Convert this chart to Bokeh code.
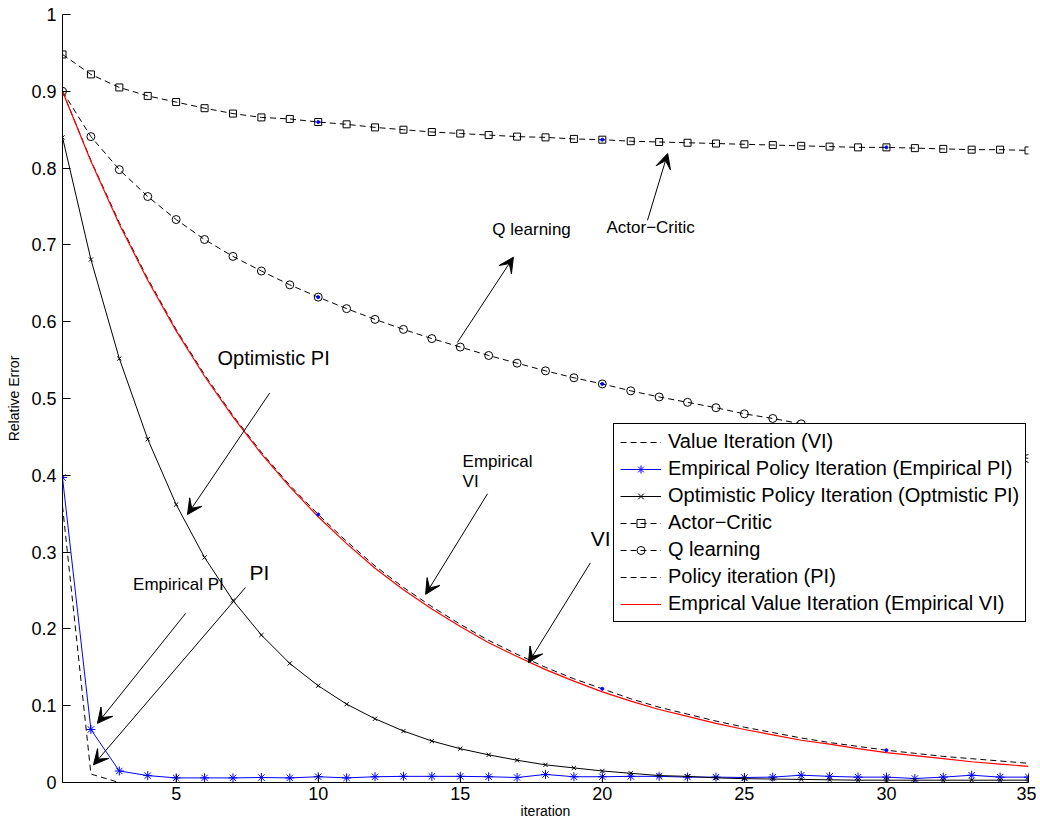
from bokeh.plotting import figure
from bokeh.models import (Range1d, FixedTicker, CustomJSTickFormatter, Legend,
                          LegendItem, Label, Arrow, VeeHead)
from bokeh.embed import file_html
from bokeh.resources import INLINE

iterations = list(range(1, 36))

value_iteration = [0.900, 0.810, 0.729, 0.656, 0.590, 0.531, 0.478, 0.430, 0.387, 0.349,
                   0.314, 0.282, 0.254, 0.229, 0.206, 0.185, 0.167, 0.150, 0.135, 0.122,
                   0.109, 0.098, 0.089, 0.080, 0.072, 0.065, 0.058, 0.052, 0.047, 0.042,
                   0.038, 0.034, 0.031, 0.028, 0.025]

empirical_pi = [0.397, 0.069, 0.015, 0.009, 0.006, 0.006, 0.006, 0.0065, 0.006, 0.0075,
                0.006, 0.0075, 0.008, 0.008, 0.008, 0.0075, 0.0065, 0.0105, 0.0075, 0.0075,
                0.008, 0.008, 0.007, 0.007, 0.0065, 0.007, 0.0095, 0.008, 0.007, 0.007,
                0.0052, 0.007, 0.0095, 0.007, 0.007]

optimistic_pi = [0.840, 0.681, 0.552, 0.447, 0.362, 0.293, 0.237, 0.192, 0.155, 0.126,
                 0.102, 0.083, 0.067, 0.054, 0.044, 0.036, 0.029, 0.023, 0.019, 0.015,
                 0.012, 0.009, 0.008, 0.006, 0.005, 0.0045, 0.004, 0.0035, 0.003, 0.003,
                 0.003, 0.003, 0.003, 0.003, 0.003]

actor_critic = [0.948, 0.922, 0.905, 0.894, 0.886, 0.878, 0.871, 0.866, 0.864, 0.860,
                0.857, 0.853, 0.850, 0.847, 0.845, 0.843, 0.841, 0.840, 0.838, 0.837,
                0.835, 0.834, 0.833, 0.832, 0.831, 0.830, 0.829, 0.828, 0.827, 0.827,
                0.826, 0.825, 0.824, 0.824, 0.823]

q_learning = [0.900, 0.841, 0.798, 0.763, 0.733, 0.707, 0.685, 0.666, 0.648, 0.632,
              0.617, 0.603, 0.590, 0.578, 0.567, 0.556, 0.546, 0.536, 0.527, 0.519,
              0.510, 0.502, 0.495, 0.488, 0.480, 0.474, 0.467, 0.461, 0.455, 0.449,
              0.444, 0.438, 0.433, 0.428, 0.422]

policy_iteration = [0.360, 0.011, 0.0, 0.0, 0.0, 0.0, 0.0, 0.0, 0.0, 0.0,
                    0.0, 0.0, 0.0, 0.0, 0.0, 0.0, 0.0, 0.0, 0.0, 0.0,
                    0.0, 0.0, 0.0, 0.0, 0.0, 0.0, 0.0, 0.0, 0.0, 0.0,
                    0.0, 0.0, 0.0, 0.0, 0.0]

empirical_vi = [0.900, 0.809, 0.727, 0.654, 0.588, 0.529, 0.476, 0.428, 0.385, 0.346,
                0.311, 0.279, 0.251, 0.226, 0.203, 0.182, 0.164, 0.147, 0.132, 0.118,
                0.106, 0.095, 0.086, 0.077, 0.069, 0.062, 0.055, 0.050, 0.044, 0.039,
                0.035, 0.031, 0.027, 0.024, 0.021]

x_ticks = [5, 10, 15, 20, 25, 30, 35]
y_ticks = [0, 0.1, 0.2, 0.3, 0.4, 0.5, 0.6, 0.7, 0.8, 0.9, 1.0]

legend_labels = ["Value Iteration (VI)",
                 "Empirical Policy Iteration (Empirical PI)",
                 "Optimistic Policy Iteration (Optmistic PI)",
                 "Actor\u2212Critic",
                 "Q learning",
                 "Policy iteration (PI)",
                 "Emprical Value Iteration (Empirical VI)"]

# annotations: (text, text_x, text_y, font size, arrow start x, y, arrow end x, y)
annotations = [
    ("Q learning", 17.51, 0.720, "17px", 14.90, 0.573, 16.87, 0.684),
    ("Actor\u2212Critic", 21.70, 0.723, "17px", 21.59, 0.732, 22.30, 0.819),
    ("Optimistic PI", 8.43, 0.553, "20px", 8.29, 0.507, 5.40, 0.349),
    ("VI", 19.94, 0.318, "21px", 19.58, 0.286, 17.40, 0.156),
    ("Empirical PI", 5.08, 0.258, "17px", 5.33, 0.220, 2.23, 0.077),
    ("PI", 7.93, 0.274, "21px", 7.44, 0.254, 2.09, 0.023),
]
emp_vi_note = ("Empirical", "VI", 15.08, 0.418, 0.392, 15.96, 0.376, 13.78, 0.245)

FONT = "Liberation Sans"
DASH = "6 4"

p = figure(frame_width=966, frame_height=768, x_range=Range1d(1, 35), y_range=Range1d(0, 1),
           output_backend="svg", toolbar_location=None,
           min_border_left=62, min_border_right=8, min_border_top=14, min_border_bottom=36)
p.outline_line_color = None
p.xgrid.visible = False
p.ygrid.visible = False
p.background_fill_color = "white"

for ax in (p.xaxis[0], p.yaxis[0]):
    ax.major_tick_in = 8
    ax.major_tick_out = 0
    ax.minor_tick_line_color = None
    ax.axis_line_color = "black"
    ax.major_tick_line_color = "black"
    ax.major_label_text_font = FONT
    ax.major_label_text_font_size = "18px"
    ax.major_label_text_color = "black"
    ax.axis_label_text_font = FONT
    ax.axis_label_text_font_style = "normal"
    ax.axis_label_text_color = "black"
    ax.axis_label_text_font_size = "14px"

p.xaxis.ticker = FixedTicker(ticks=x_ticks)
p.yaxis.ticker = FixedTicker(ticks=y_ticks)
p.yaxis.formatter = CustomJSTickFormatter(code="return tick.toFixed(1).replace(/\\.0$/, '');")
p.xaxis.axis_label = "iteration"
p.xaxis.axis_label_standoff = 0
p.yaxis.axis_label = "Relative Error"
p.yaxis.axis_label_standoff = 6
p.xaxis.major_label_standoff = 4
p.yaxis.major_label_standoff = 6

r_vi = p.line(iterations, value_iteration, line_color="black", line_dash=DASH, line_width=1)

r_epi_l = p.line(iterations, empirical_pi, line_color="#0000FF", line_width=1)
r_epi_m = p.scatter(iterations, empirical_pi, marker="asterisk", size=9,
                    line_color="#0000FF", line_width=1)

r_opi_l = p.line(iterations, optimistic_pi, line_color="black", line_width=1)
r_opi_m = p.scatter(iterations, optimistic_pi, marker="x", size=6,
                    line_color="black", line_width=1)

r_ac_l = p.line(iterations, actor_critic, line_color="black", line_dash=DASH, line_width=1)
r_ac_m = p.scatter(iterations, actor_critic, marker="square", size=7,
                   line_color="black", fill_alpha=0, line_width=1)

r_q_l = p.line(iterations, q_learning, line_color="black", line_dash=DASH, line_width=1)
r_q_m = p.scatter(iterations, q_learning, marker="circle", size=8,
                  line_color="black", fill_alpha=0, line_width=1)

r_pi = p.line(iterations, policy_iteration, line_color="black", line_dash=DASH, line_width=1)

r_evi = p.line(iterations, empirical_vi, line_color="#FF0000", line_width=1.2)

# small blue dots visible at every tenth iteration on several curves
dot_idx = [9, 19, 29]
for series in (actor_critic, q_learning, value_iteration):
    p.scatter([iterations[i] for i in dot_idx], [series[i] for i in dot_idx],
              marker="circle", size=3, fill_color="#0000FF", line_color="#0000FF")

legend = Legend(items=[
    LegendItem(label=legend_labels[0], renderers=[r_vi]),
    LegendItem(label=legend_labels[1], renderers=[r_epi_l, r_epi_m]),
    LegendItem(label=legend_labels[2], renderers=[r_opi_l, r_opi_m]),
    LegendItem(label=legend_labels[3], renderers=[r_ac_l, r_ac_m]),
    LegendItem(label=legend_labels[4], renderers=[r_q_l, r_q_m]),
    LegendItem(label=legend_labels[5], renderers=[r_pi]),
    LegendItem(label=legend_labels[6], renderers=[r_evi]),
], location=(551, 160))
legend.border_line_color = "black"
legend.border_line_alpha = 1
legend.border_line_width = 1
legend.background_fill_color = "white"
legend.background_fill_alpha = 1
legend.label_text_font = FONT
legend.label_text_font_size = "20px"
legend.label_text_color = "black"
legend.glyph_width = 41
legend.glyph_height = 20
legend.label_height = 20
legend.label_standoff = 7
legend.spacing = 4
legend.padding = 6
legend.margin = 0
p.add_layout(legend, "center")

for text, tx, ty, fs, x0, y0, x1, y1 in annotations:
    p.add_layout(Arrow(end=VeeHead(size=15, fill_color="black", line_color="black"),
                       x_start=x0, y_start=y0, x_end=x1, y_end=y1,
                       line_color="black", line_width=1))
    p.add_layout(Label(x=tx, y=ty, text=text, text_align="center", text_baseline="middle",
                       text_font=FONT, text_font_size=fs, text_color="black"))

t1, t2, tx, ty1, ty2, x0, y0, x1, y1 = emp_vi_note
p.add_layout(Arrow(end=VeeHead(size=15, fill_color="black", line_color="black"),
                   x_start=x0, y_start=y0, x_end=x1, y_end=y1,
                   line_color="black", line_width=1))
p.add_layout(Label(x=tx, y=ty1, text=t1, text_align="left", text_baseline="middle",
                   text_font=FONT, text_font_size="17px", text_color="black"))
p.add_layout(Label(x=tx, y=ty2, text=t2, text_align="left", text_baseline="middle",
                   text_font=FONT, text_font_size="17px", text_color="black"))

open("out.html", "w").write(file_html(p, INLINE))
